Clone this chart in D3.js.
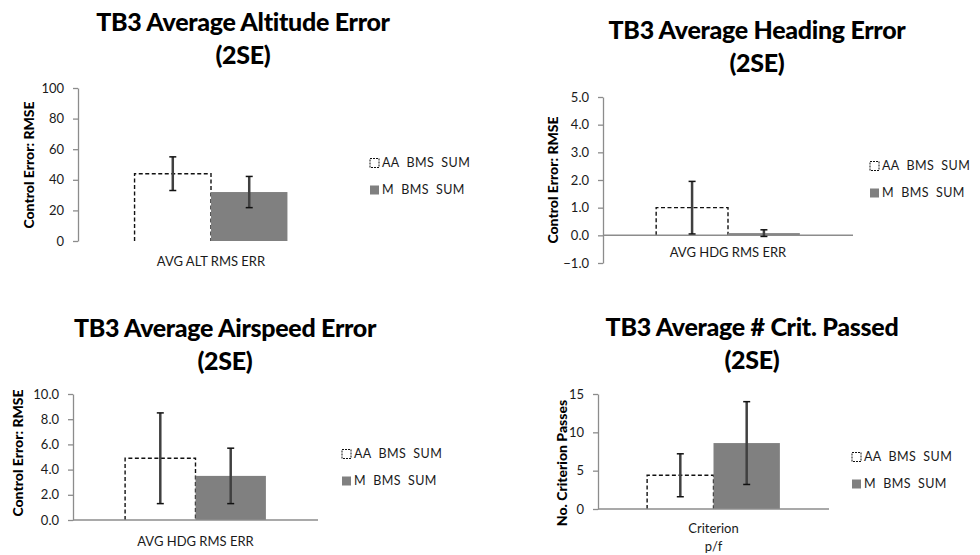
<!DOCTYPE html>
<html>
<head>
<meta charset="utf-8">
<script src="https://cdn.jsdelivr.net/npm/d3@7"></script>
<style>
  html, body { margin: 0; padding: 0; background: #fff; }
  svg { display: block; font-family: Lato, "Liberation Sans", sans-serif; }
</style>
</head>
<body>
<div id="chart"></div>
<script>
// -- data
const seriesNames = ["AA  BMS  SUM", "M  BMS  SUM"];
const panelTitles = [
  ["TB3 Average Altitude Error", "(2SE)"],
  ["TB3 Average Heading Error", "(2SE)"],
  ["TB3 Average Airspeed Error", "(2SE)"],
  ["TB3 Average # Crit. Passed", "(2SE)"]
];
const categoryLabels = [["AVG ALT RMS ERR"], ["AVG HDG RMS ERR"], ["AVG HDG RMS ERR"], ["Criterion", "p/f"]];
const yLabels = ["Control Error: RMSE", "Control Error: RMSE", "Control Error: RMSE", "No. Criterion Passes"];
const yDomains = [[0, 100], [-1, 5], [0, 10], [0, 15]];
const yTickSteps = [20, 1, 2, 5];
const yTickFormats = ["d", ".1f", ".1f", "d"];
const means = [[44, 32], [1.0, 0.08], [4.9, 3.5], [4.4, 8.6]];
const errors = [[11, 10.2], [0.95, 0.12], [3.6, 2.2], [2.8, 5.4]];

// -- where each panel sits on the page
const layout = [
  { left: 78, right: 344, top: 88, bottom: 241, xLine: false, title: [243, 31], legend: [370, 163], ylab: [29, 165], catY: 266 },
  { left: 603, right: 853, top: 97, bottom: 263, xLine: true, title: [757, 39], legend: [870, 166], ylab: [553, 180], catY: 257 },
  { left: 73, right: 318, top: 394, bottom: 520, xLine: true, title: [225, 337], legend: [342, 454], ylab: [18, 453], catY: 546 },
  { left: 598, right: 829, top: 394, bottom: 509, xLine: true, title: [752, 336], legend: [852, 457], ylab: [562, 463], catY: 533 }
];

const width = 980, height = 555;
const axisColor = '#8c8c8c';
const barGray = '#808080';
const errColor = '#404040';

const svg = d3.select('#chart').append('svg')
  .attr('width', width)
  .attr('height', height);

layout.forEach((L, i) => {
  const g = svg.append('g');
  const cat = categoryLabels[i].join(' ');

  const y = d3.scaleLinear().domain(yDomains[i]).range([L.bottom, L.top]);
  const x0 = d3.scaleBand().domain([cat]).range([L.left, L.right]).paddingOuter(0.37).paddingInner(0);
  const x1 = d3.scaleBand().domain(seriesNames).range([0, x0.bandwidth()]);

  // -- title
  const t = g.append('text')
    .attr('x', L.title[0])
    .attr('y', L.title[1])
    .attr('text-anchor', 'middle')
    .style('font-size', '25px')
    .style('font-weight', '900')
    .style('letter-spacing', '-0.3px')
    .attr('fill', '#000');
  panelTitles[i].forEach((line, k) => {
    t.append('tspan').attr('x', L.title[0]).attr('dy', k === 0 ? 0 : 33).text(line);
  });

  // -- y axis
  const [lo, hi] = yDomains[i];
  const ticks = d3.range(lo, hi + yTickSteps[i] / 2, yTickSteps[i]);
  const yAxis = g.append('g')
    .attr('transform', `translate(${L.left},0)`)
    .call(d3.axisLeft(y).tickValues(ticks).tickSize(5).tickSizeOuter(0).tickPadding(9)
      .tickFormat(d3.format(yTickFormats[i])));
  yAxis.select('.domain').attr('stroke', axisColor).attr('stroke-width', 1.3);
  yAxis.selectAll('.tick line').attr('stroke', axisColor).attr('stroke-width', 1.3);
  yAxis.selectAll('.tick text')
    .attr('fill', '#1a1a1a')
    .style('font-size', '13px')
    .style('font-family', 'Lato, "Liberation Sans", sans-serif');

  // -- y axis title
  g.append('text')
    .attr('transform', `translate(${L.ylab[0]},${L.ylab[1]}) rotate(-90)`)
    .attr('text-anchor', 'middle')
    .attr('dy', '0.35em')
    .style('font-size', '14px')
    .style('font-weight', '900')
    .text(yLabels[i]);

  // -- bars
  const bars = seriesNames.map((s, k) => ({ s, k, v: means[i][k], e: errors[i][k] }));
  bars.forEach(b => {
    const bx = x0(cat) + x1(b.s);
    const bw = x1.bandwidth();
    if (b.k === 0) {
      g.append('rect')
        .attr('x', bx).attr('y', y(b.v))
        .attr('width', bw).attr('height', y(0) - y(b.v))
        .attr('fill', '#fff');
      g.append('path')
        .attr('d', `M${bx},${y(0)}V${y(b.v)}H${bx + bw}V${y(0)}`)
        .attr('fill', 'none')
        .attr('stroke', '#111')
        .attr('stroke-width', 1.4)
        .attr('stroke-dasharray', '4,2.5');
    } else {
      g.append('rect')
        .attr('x', bx).attr('y', Math.min(y(b.v), y(0)))
        .attr('width', bw).attr('height', Math.max(2, Math.abs(y(0) - y(b.v))))
        .attr('fill', barGray);
    }
  });

  // -- x axis line
  if (L.xLine) {
    g.append('line')
      .attr('x1', L.left).attr('x2', L.right)
      .attr('y1', y(0)).attr('y2', y(0))
      .attr('stroke', axisColor)
      .attr('stroke-width', 1.5);
  }

  // -- error bars
  bars.forEach(b => {
    const cx = x0(cat) + x1(b.s) + x1.bandwidth() / 2;
    const y1 = y(b.v + b.e), y2 = y(b.v - b.e);
    g.append('line')
      .attr('x1', cx).attr('x2', cx).attr('y1', y1).attr('y2', y2)
      .attr('stroke', errColor).attr('stroke-width', 2.5);
    [y1, y2].forEach(yy => {
      g.append('line')
        .attr('x1', cx - 3.5).attr('x2', cx + 3.5).attr('y1', yy).attr('y2', yy)
        .attr('stroke', '#111').attr('stroke-width', 1.5);
    });
  });

  // -- category label
  const cl = g.append('text')
    .attr('x', x0(cat) + x0.bandwidth() / 2)
    .attr('y', L.catY)
    .attr('text-anchor', 'middle')
    .style('font-size', '13px')
    .attr('fill', '#1a1a1a');
  categoryLabels[i].forEach((line, k) => {
    cl.append('tspan').attr('x', x0(cat) + x0.bandwidth() / 2).attr('dy', k === 0 ? 0 : 18).text(line);
  });

  // -- legend
  seriesNames.forEach((s, k) => {
    const ly = L.legend[1] + k * 27;
    g.append('rect')
      .attr('x', L.legend[0]).attr('y', ly - 4.5)
      .attr('width', 9).attr('height', 9)
      .attr('fill', k === 0 ? '#fff' : barGray)
      .attr('stroke', k === 0 ? '#111' : 'none')
      .attr('stroke-width', 1)
      .attr('stroke-dasharray', k === 0 ? '2,1' : null);
    g.append('text')
      .attr('x', L.legend[0] + 12)
      .attr('y', ly)
      .attr('dy', '0.35em')
      .style('font-size', '12.5px')
      .style('white-space', 'pre')
      .style('letter-spacing', '0.4px')
      .attr('fill', '#1a1a1a')
      .text(s);
  });
});
</script>
</body>
</html>
